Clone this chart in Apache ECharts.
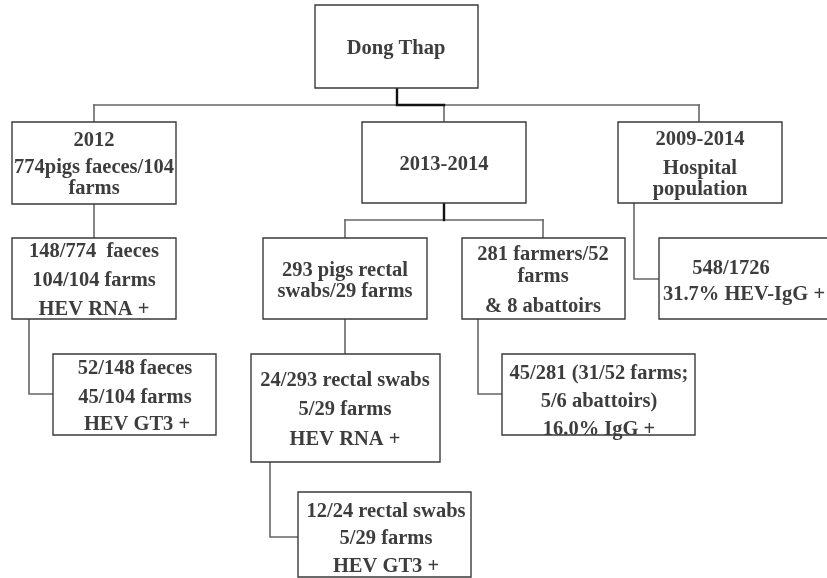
<!DOCTYPE html>
<html>
<head>
<meta charset="utf-8">
<script src="https://cdn.jsdelivr.net/npm/echarts@6/dist/echarts.min.js"></script>
<style>
html,body{margin:0;padding:0;background:#fff;}
#chart{width:827px;height:578px;}
</style>
</head>
<body>
<div id="chart"></div>
<script>
// Boxes of the flow diagram: [x1, y1, x2, y2] in diagram units
const boxes = [
  [315, 5, 478, 88],     // Dong Thap
  [12, 122, 176, 204],   // 2012
  [362, 122, 526, 203],  // 2013-2014
  [618, 122, 782, 203],  // 2009-2014
  [12, 238, 176, 319],   // 148/774
  [53, 354, 216, 435],   // 52/148
  [263, 238, 427, 319],  // 293 pigs
  [251, 354, 440, 462],  // 24/293
  [298, 492, 471, 577],  // 12/24
  [462, 238, 625, 319],  // 281 farmers
  [502, 354, 695, 435],  // 45/281
  [659, 238, 845, 319]   // 548/1726
];

// Text rows: [x, y, text]
const textRows = [
  [396, 47, 'Dong Thap'],
  [94, 139, '2012'],
  [94, 166, '774pigs faeces/104'],
  [94, 187, 'farms'],
  [444, 163, '2013-2014'],
  [700, 138, '2009-2014'],
  [700, 167, 'Hospital'],
  [700, 188, 'population'],
  [94, 250, '148/774  faeces'],
  [94, 279, '104/104 farms'],
  [94, 308, 'HEV RNA +'],
  [135, 367, '52/148 faeces'],
  [135, 396, '45/104 farms'],
  [137, 423, 'HEV GT3 +'],
  [345, 269, '293 pigs rectal'],
  [345, 290, 'swabs/29 farms'],
  [345, 379, '24/293 rectal swabs'],
  [345, 408, '5/29 farms'],
  [345, 438, 'HEV RNA +'],
  [386, 510, '12/24 rectal swabs'],
  [386, 537, '5/29 farms'],
  [386, 565, 'HEV GT3 +'],
  [543, 253, '281 farmers/52'],
  [543, 275, 'farms'],
  [543, 305, '& 8 abattoirs'],
  [599, 372, '45/281 (31/52 farms;'],
  [599, 400, '5/6 abattoirs)'],
  [599, 428, '16.0% IgG +'],
  [731, 267, '548/1726'],
  [744, 293, '31.7% HEV-IgG +']
];

// Connector polylines (points in diagram units)
const connectors = [
  [[94, 105], [699, 105]],
  [[94, 105], [94, 122]],
  [[444, 105], [444, 122]],
  [[699, 105], [699, 122]],
  [[94, 204], [94, 238]],
  [[29, 319], [29, 394], [53, 394]],
  [[345, 220], [543, 220]],
  [[345, 220], [345, 238]],
  [[543, 220], [543, 238]],
  [[345, 319], [345, 354]],
  [[270, 462], [270, 537], [298, 537]],
  [[478, 319], [478, 394], [502, 394]],
  [[634, 203], [634, 279], [659, 279]]
];
// Dark (black) connectors
const darkConnectors = [
  [[397, 88], [397, 105], [444, 105]],
  [[444, 203], [444, 220]]
];

const chart = echarts.init(document.getElementById('chart'), null, {renderer: 'canvas'});

function polyRender(list, color, width) {
  return function (params, api) {
    const pts = list[params.dataIndex].map(p => api.coord(p));
    return {
      type: 'polyline',
      shape: {points: pts},
      style: {stroke: color, lineWidth: width, fill: null, lineJoin: 'miter', lineCap: 'square'}
    };
  };
}

const option = {
  animation: false,
  backgroundColor: '#ffffff',
  grid: {left: 0, right: 0, top: 0, bottom: 0, containLabel: false},
  xAxis: {type: 'value', min: 0, max: 827, show: false},
  yAxis: {type: 'value', min: 0, max: 578, inverse: true, show: false},
  series: [
    {
      type: 'custom',
      clip: false,
      silent: true,
      data: connectors.map(c => [c[0][0], c[0][1]]),
      encode: {x: 0, y: 1},
      renderItem: polyRender(connectors, '#666666', 1.6)
    },
    {
      type: 'custom',
      clip: false,
      silent: true,
      data: darkConnectors.map(c => [c[0][0], c[0][1]]),
      encode: {x: 0, y: 1},
      renderItem: polyRender(darkConnectors, '#111111', 2.4)
    },
    {
      type: 'custom',
      clip: false,
      silent: true,
      data: boxes.map(b => [b[0], b[1], b[2], b[3]]),
      encode: {x: [0, 2], y: [1, 3]},
      renderItem: function (params, api) {
        const p1 = api.coord([api.value(0), api.value(1)]);
        const p2 = api.coord([api.value(2), api.value(3)]);
        return {
          type: 'rect',
          shape: {x: p1[0], y: p1[1], width: p2[0] - p1[0], height: p2[1] - p1[1]},
          style: {fill: '#ffffff', stroke: '#3a3a3a', lineWidth: 1.4}
        };
      }
    },
    {
      type: 'custom',
      clip: false,
      silent: true,
      data: textRows.map(t => [t[0], t[1]]),
      encode: {x: 0, y: 1},
      renderItem: function (params, api) {
        const row = textRows[params.dataIndex];
        const p = api.coord([row[0], row[1]]);
        return {
          type: 'text',
          x: p[0],
          y: p[1] + 1.5,
          style: {
            text: row[2],
            fill: '#3d3d3d',
            font: 'bold 20.5px "Liberation Serif", "Times New Roman", serif',
            align: 'center',
            verticalAlign: 'middle'
          }
        };
      }
    }
  ]
};
chart.setOption(option);
</script>
</body>
</html>
